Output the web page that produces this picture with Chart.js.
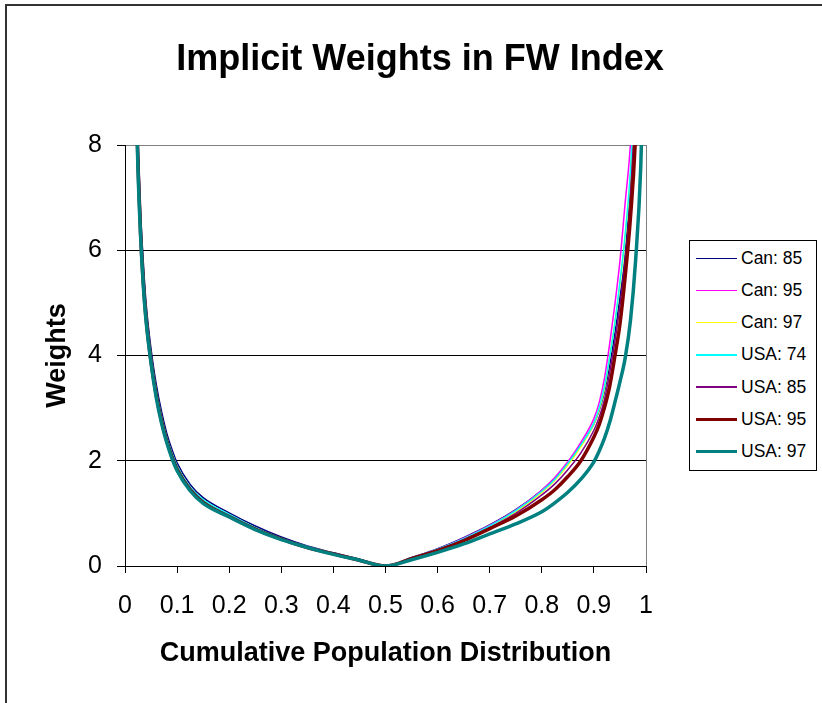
<!DOCTYPE html>
<html>
<head>
<meta charset="utf-8">
<title>Implicit Weights in FW Index</title>
<script src="https://cdn.jsdelivr.net/npm/chart.js@4.4.1/dist/chart.umd.min.js"></script>
<style>
    html, body { margin: 0; padding: 0; background: #fff; }
    body { width: 822px; height: 703px; position: relative; overflow: hidden; font-family: "Liberation Sans", Arial, sans-serif; }
    .frame { position: absolute; left: 5px; top: 4px; width: 900px; height: 800px; border-left: 2px solid #333; border-top: 2px solid #333; }
    .chart-box { position: absolute; left: 18px; top: 0; width: 804px; height: 703px; }
    .legend { position: absolute; left: 689px; top: 240px; width: 126px; height: 229px; border: 1px solid #000; background: #fff; }
    .legend-item { position: absolute; left: 6px; height: 20px; display: flex; align-items: center; font-size: 17.5px; color: #000; white-space: nowrap; }
    .legend-item .swatch { width: 41px; margin-right: 4px; }
</style>
</head>
<body>
<div class="frame"></div>
<div class="chart-box"><canvas id="fwWeightsChart"></canvas></div>
<div class="legend" id="legend"></div>

<script>
// cumulative population share (x) and the weight
const shares = [0.02, 0.025, 0.03, 0.035, 0.04, 0.05, 0.06, 0.07, 0.08, 0.09, 0.1, 0.125, 0.15, 0.2, 0.25, 0.3, 0.35, 0.4, 0.45, 0.5,
                0.55, 0.6, 0.65, 0.7, 0.75, 0.8, 0.825, 0.85, 0.875, 0.9, 0.91, 0.92, 0.93, 0.94, 0.95, 0.96, 0.97, 0.98, 0.99, 0.995];

const can85 = [10.1, 8.1, 6.7, 5.8, 5.05, 4.12, 3.45, 2.94, 2.53, 2.22, 1.96, 1.55, 1.3, 1.01, 0.76, 0.55, 0.38, 0.25, 0.13, 0,
               0.16, 0.33, 0.54, 0.78, 1.07, 1.44, 1.67, 1.96, 2.3, 2.7, 2.95, 3.3, 3.8, 4.4, 5.1, 5.9, 7.3, 9.4, 13, 16];
const can95 = [9.7, 7.7, 6.4, 5.5, 4.85, 3.95, 3.3, 2.8, 2.42, 2.12, 1.87, 1.48, 1.24, 0.96, 0.72, 0.52, 0.36, 0.23, 0.12, 0,
               0.15, 0.32, 0.53, 0.77, 1.06, 1.44, 1.68, 1.98, 2.35, 2.8, 3.1, 3.55, 4.2, 4.95, 5.8, 6.9, 8.0, 10, 14, 17];
const can97 = [9.8, 7.8, 6.45, 5.55, 4.88, 3.98, 3.32, 2.83, 2.44, 2.14, 1.89, 1.49, 1.25, 0.97, 0.72, 0.52, 0.36, 0.24, 0.12, 0,
               0.15, 0.31, 0.51, 0.75, 1.03, 1.4, 1.63, 1.92, 2.27, 2.7, 2.97, 3.35, 3.95, 4.6, 5.35, 6.25, 7.4, 9.4, 13, 16];
const usa74 = [9.8, 7.8, 6.5, 5.6, 4.9, 4.0, 3.35, 2.85, 2.45, 2.15, 1.9, 1.5, 1.26, 0.98, 0.73, 0.53, 0.37, 0.24, 0.12, 0,
               0.15, 0.32, 0.52, 0.76, 1.05, 1.42, 1.65, 1.95, 2.3, 2.72, 3.0, 3.4, 3.95, 4.6, 5.4, 6.3, 7.5, 9.6, 13, 16];
const usa85 = [9.6, 7.6, 6.35, 5.45, 4.8, 3.9, 3.27, 2.78, 2.4, 2.1, 1.85, 1.46, 1.22, 0.95, 0.71, 0.51, 0.36, 0.23, 0.12, 0,
               0.15, 0.31, 0.5, 0.73, 1.0, 1.35, 1.56, 1.83, 2.15, 2.58, 2.82, 3.15, 3.65, 4.25, 4.95, 5.8, 7.0, 9.0, 12.5, 16];
const usa95 = [9.5, 7.6, 6.3, 5.4, 4.75, 3.88, 3.25, 2.76, 2.38, 2.08, 1.84, 1.45, 1.21, 0.94, 0.7, 0.51, 0.35, 0.23, 0.11, 0,
               0.14, 0.29, 0.48, 0.71, 0.95, 1.26, 1.45, 1.7, 2.0, 2.45, 2.68, 3.0, 3.4, 3.97, 4.6, 5.5, 6.6, 8.2, 11.5, 15];
const usa97 = [9.4, 7.5, 6.25, 5.35, 4.7, 3.85, 3.2, 2.72, 2.35, 2.05, 1.81, 1.43, 1.19, 0.93, 0.69, 0.5, 0.35, 0.22, 0.11, 0,
               0.12, 0.26, 0.42, 0.61, 0.8, 1.03, 1.2, 1.4, 1.65, 1.98, 2.18, 2.42, 2.72, 3.1, 3.5, 3.95, 4.65, 5.8, 7.6, 9.5];

const seriesLabels = ['Can: 85', 'Can: 95', 'Can: 97', 'USA: 74', 'USA: 85', 'USA: 95', 'USA: 97'];
const xTickLabels = ['0', '0.1', '0.2', '0.3', '0.4', '0.5', '0.6', '0.7', '0.8', '0.9', '1'];
const yTickLabels = ['0', '2', '4', '6', '8'];

const weights = [can85, can95, can97, usa74, usa85, usa95, usa97];
const lineColors = ['#000080', '#FF00FF', '#FFFF00', '#00FFFF', '#800080', '#800000', '#008080'];
const lineWidths = [1.5, 1.5, 1.5, 1.5, 1.5, 3.5, 3.5];

const FONT = '"Liberation Sans", Arial, sans-serif';
Chart.defaults.font.family = FONT;
Chart.defaults.color = '#000';

const datasets = seriesLabels.map((label, i) => ({
    label: label,
    data: shares.map((p, j) => ({ x: p, y: weights[i][j] })),
    borderColor: lineColors[i],
    backgroundColor: lineColors[i],
    borderWidth: lineWidths[i],
    pointRadius: 0,
    fill: false,
    cubicInterpolationMode: 'monotone',
    // excel draws the last series on top
    order: seriesLabels.length - i
}));

const ctx = document.getElementById('fwWeightsChart').getContext('2d');
new Chart(ctx, {
    type: 'line',
    data: { datasets: datasets },
    options: {
        responsive: true,
        maintainAspectRatio: false,
        animation: false,
        layout: {
            padding: { left: 0, right: 0, top: 0, bottom: 33 }
        },
        plugins: {
            legend: { display: false },
            tooltip: { enabled: false },
            title: {
                display: true,
                text: 'Implicit Weights in FW Index',
                color: '#000',
                font: { family: FONT, size: 36, weight: 'bold' },
                padding: { top: 38.4, bottom: 63.4 }
            }
        },
        scales: {
            x: {
                type: 'linear',
                min: 0,
                max: 1,
                ticks: {
                    stepSize: 0.1,
                    autoSkip: false,
                    maxRotation: 0,
                    padding: 18,
                    color: '#000',
                    font: { size: 25 },
                    callback: function(value, index) {
                        return xTickLabels[index];
                    }
                },
                grid: {
                    color: function(c) {
                        return (c.tick && Math.abs(c.tick.value - 1) < 1e-6) ? '#808080' : 'rgba(0,0,0,0)';
                    },
                    tickColor: '#000',
                    tickLength: 7
                },
                border: { display: true, color: '#000', width: 1 },
                title: {
                    display: true,
                    text: 'Cumulative Population Distribution',
                    color: '#000',
                    font: { size: 27, weight: 'bold' },
                    padding: { top: 0, bottom: 0 }
                },
                afterFit: function(scale) {
                    scale.height = 104;
                }
            },
            y: {
                min: 0,
                max: 8,
                ticks: {
                    stepSize: 2,
                    padding: 15,
                    color: '#000',
                    font: { size: 25 },
                    callback: function(value, index) {
                        return yTickLabels[index];
                    }
                },
                grid: {
                    color: function(c) {
                        return (c.tick && c.tick.value === 8) ? '#808080' : '#000';
                    },
                    tickColor: '#000',
                    tickLength: 8
                },
                border: { display: true, color: '#000', width: 1 },
                title: {
                    display: true,
                    text: 'Weights',
                    color: '#000',
                    font: { size: 27, weight: 'bold' },
                    padding: { top: 23, bottom: 0 }
                },
                afterFit: function(scale) {
                    scale.width = 107;
                }
            },
            // empty right-hand box that keeps room for the legend, so the title stays centred on the whole chart
            legendSpace: {
                type: 'linear',
                position: 'right',
                grid: { display: false },
                border: { display: false },
                ticks: { display: false },
                afterFit: function(scale) {
                    scale.width = 176;
                }
            }
        }
    }
});

// legend drawn as a boxed list, like the excel one
const legendEl = document.getElementById('legend');
seriesLabels.forEach((label, i) => {
    const item = document.createElement('div');
    item.className = 'legend-item';
    item.style.top = (7.3 + 32.2 * i) + 'px';
    const swatch = document.createElement('span');
    swatch.className = 'swatch';
    swatch.style.height = lineWidths[i] + 'px';
    swatch.style.background = lineColors[i];
    const text = document.createElement('span');
    text.textContent = label;
    item.appendChild(swatch);
    item.appendChild(text);
    legendEl.appendChild(item);
});
</script>
</body>
</html>
